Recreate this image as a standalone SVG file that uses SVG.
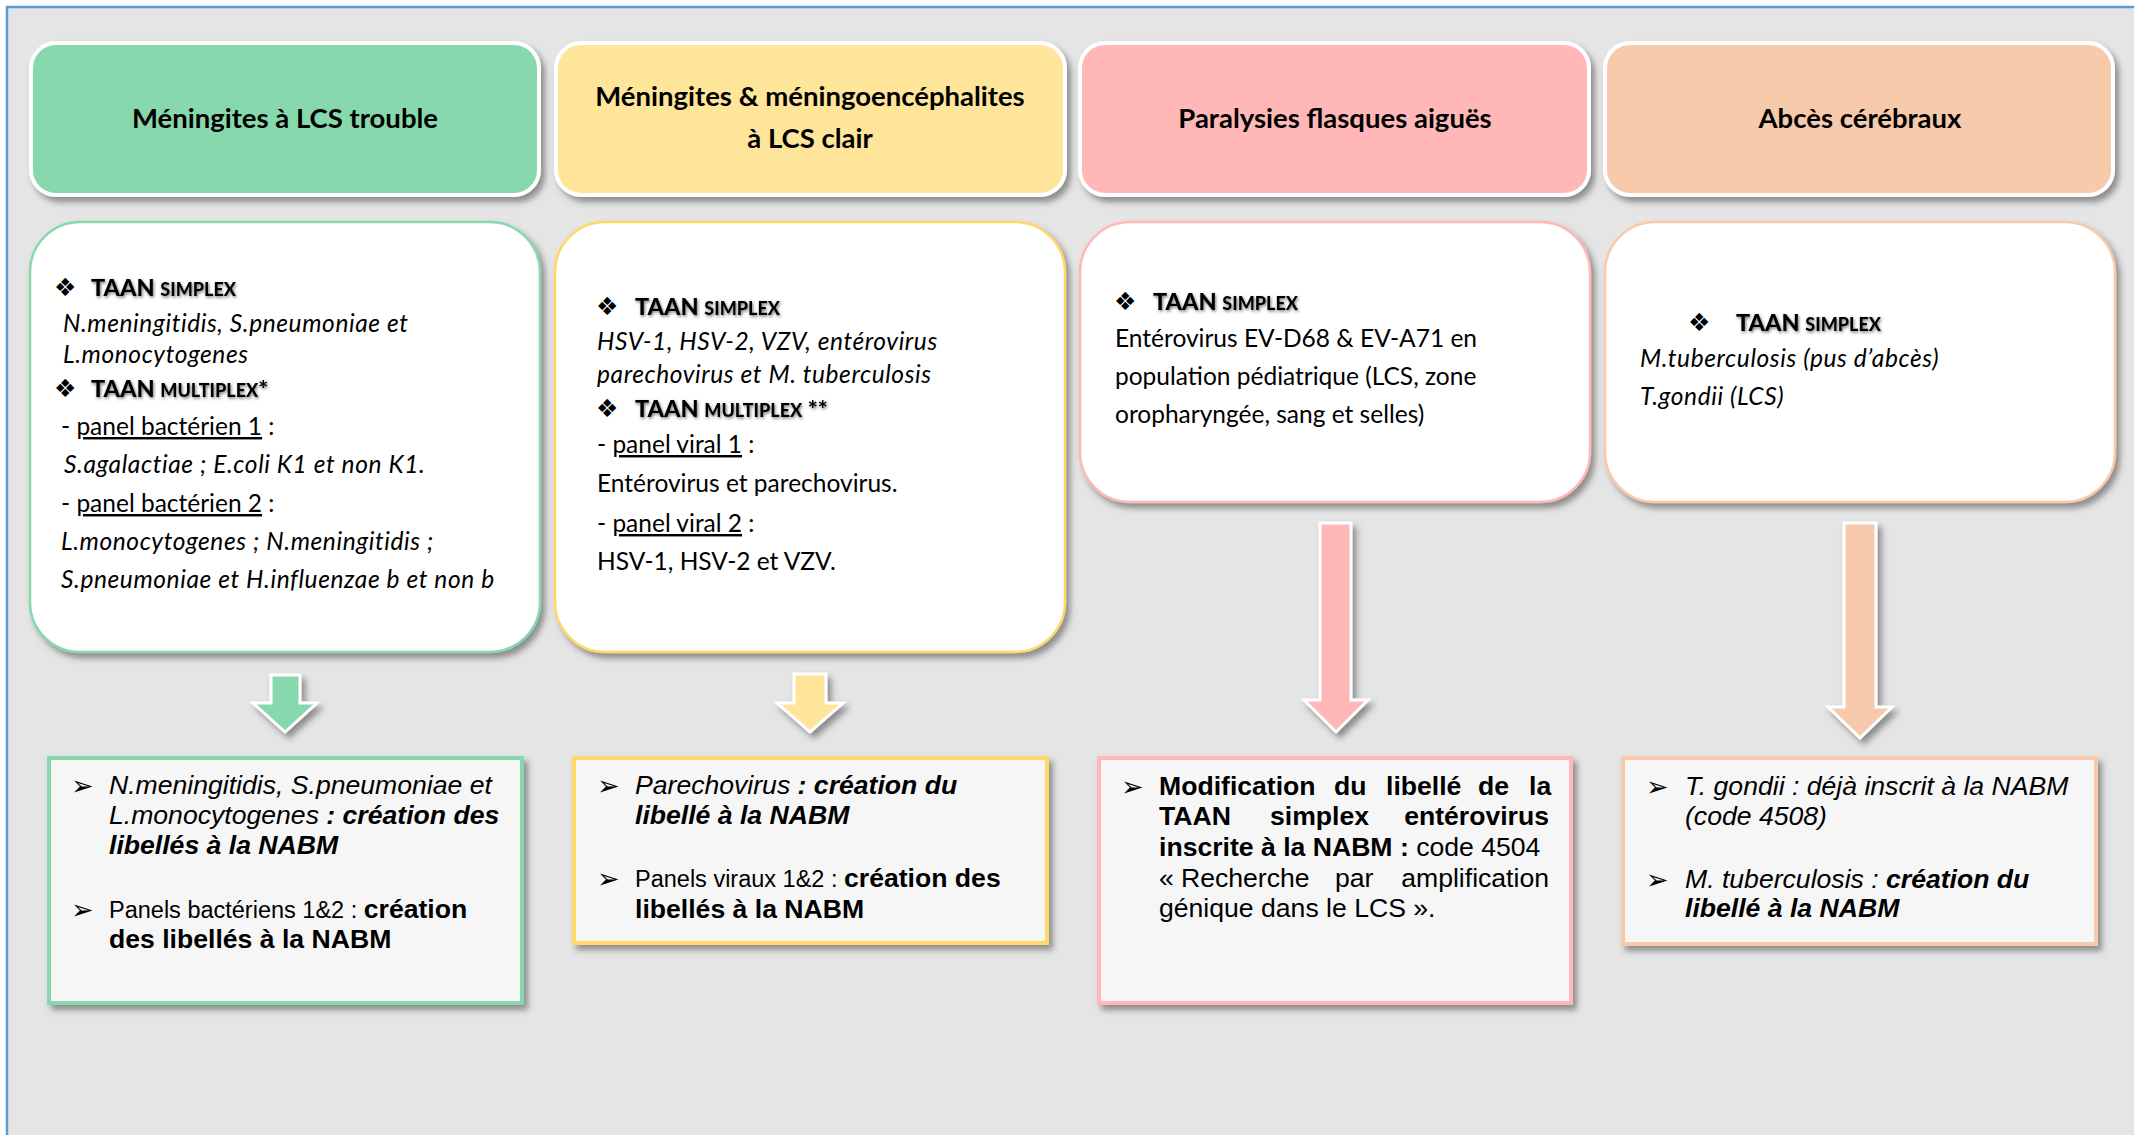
<svg xmlns="http://www.w3.org/2000/svg" width="2134" height="1135" viewBox="0 0 2134 1135">
<defs>
<filter id="sh" x="-10%" y="-10%" width="125%" height="130%">
<feDropShadow dx="4" dy="5" stdDeviation="3" flood-color="#444" flood-opacity="0.55"/>
</filter>
<filter id="ts" x="-5%" y="-30%" width="115%" height="170%">
<feDropShadow dx="1" dy="1.5" stdDeviation="1.6" flood-color="#555" flood-opacity="0.8"/>
</filter>
</defs>
<style>
.hdr{stroke:#fff;stroke-width:4}
.mid{fill:#fff;stroke-width:2.5}
.bot{fill:#F6F6F6;stroke-width:4}
.arr{stroke:#fff;stroke-width:3;stroke-linejoin:miter}
.ht{font-family:Lato,"Open Sans",sans-serif;font-weight:bold;font-size:27.5px;fill:#000;text-anchor:middle}
.c{font-family:Lato,"Open Sans",sans-serif;font-size:24.5px;fill:#000}
.i{font-style:italic}
.c.i{letter-spacing:0.6px}
.b{font-weight:bold}
.u{text-decoration:underline}
.taan{font-family:Lato,"Open Sans",sans-serif;font-weight:900;font-size:23.5px;fill:#000}
.sc{font-size:18px}
.bul{font-family:"DejaVu Sans",sans-serif;font-size:25px;fill:#000}
.a{font-family:"Liberation Sans",Arial,sans-serif;font-size:26.6px;fill:#000}
.sm{font-size:23.5px}
.ab{font-family:"DejaVu Sans",sans-serif;font-size:27px;fill:#000}
</style>
<rect x="0" y="0" width="2134" height="1135" fill="#fff"/>
<rect x="7" y="7" width="2140" height="1140" fill="#E5E5E5" stroke="#5B9BD5" stroke-width="2.5"/>

<g id="header1"><rect class="hdr" x="31" y="43" width="508" height="152" rx="25" fill="#88D8AE" filter="url(#sh)"/>
<text class="ht" x="285" y="128">Méningites à LCS trouble</text></g>
<g id="header2"><rect class="hdr" x="556" y="43" width="509" height="152" rx="25" fill="#FFE59A" filter="url(#sh)"/>
<text class="ht" x="810" y="106">Méningites &amp; méningoencéphalites</text>
<text class="ht" x="810" y="148">à LCS clair</text></g>
<g id="header3"><rect class="hdr" x="1080" y="43" width="509" height="152" rx="25" fill="#FFB7B7" filter="url(#sh)"/>
<text class="ht" x="1335" y="128">Paralysies flasques aiguës</text></g>
<g id="header4"><rect class="hdr" x="1605" y="43" width="508" height="152" rx="25" fill="#F7CAAC" filter="url(#sh)"/>
<text class="ht" x="1860" y="128">Abcès cérébraux</text></g>

<g id="tests1"><rect class="mid" x="30" y="222" width="510" height="430" rx="50" stroke="#88D8AE" filter="url(#sh)"/>
<text class="bul" x="54" y="296">❖</text>
<text class="taan" x="91" y="296" filter="url(#ts)">TAAN <tspan class="sc">SIMPLEX</tspan></text>
<text class="c i" x="63" y="332">N.meningitidis, S.pneumoniae et</text>
<text class="c i" x="63" y="363">L.monocytogenes</text>
<text class="bul" x="54" y="397">❖</text>
<text class="taan" x="91" y="397" filter="url(#ts)">TAAN <tspan class="sc">MULTIPLEX</tspan>*</text>
<text class="c" x="61" y="435">- <tspan class="u">panel bactérien 1</tspan> :</text>
<text class="c i" x="64" y="473">S.agalactiae ; E.coli K1 et non K1.</text>
<text class="c" x="61" y="512">- <tspan class="u">panel bactérien 2</tspan> :</text>
<text class="c i" x="61" y="550">L.monocytogenes ; N.meningitidis ;</text>
<text class="c i" x="61" y="588">S.pneumoniae et H.influenzae b et non b</text></g>

<g id="tests2"><rect class="mid" x="555" y="222" width="510" height="430" rx="50" stroke="#FFD966" filter="url(#sh)"/>
<text class="bul" x="596" y="315">❖</text>
<text class="taan" x="635" y="315" filter="url(#ts)">TAAN <tspan class="sc">SIMPLEX</tspan></text>
<text class="c i" x="597" y="350">HSV-1, HSV-2, VZV, entérovirus</text>
<text class="c i" x="597" y="383">parechovirus et M. tuberculosis</text>
<text class="bul" x="596" y="417">❖</text>
<text class="taan" x="635" y="417" filter="url(#ts)">TAAN <tspan class="sc">MULTIPLEX</tspan> **</text>
<text class="c" x="597" y="453">- <tspan class="u">panel viral 1</tspan> :</text>
<text class="c" x="597" y="492">Entérovirus et parechovirus.</text>
<text class="c" x="597" y="532">- <tspan class="u">panel viral 2</tspan> :</text>
<text class="c" x="597" y="570">HSV-1, HSV-2 et VZV.</text></g>

<g id="tests3"><rect class="mid" x="1080" y="222" width="510" height="280" rx="50" stroke="#FFB7B7" filter="url(#sh)"/>
<text class="bul" x="1114" y="310">❖</text>
<text class="taan" x="1153" y="310" filter="url(#ts)">TAAN <tspan class="sc">SIMPLEX</tspan></text>
<text class="c" x="1115" y="347">Entérovirus EV-D68 &amp; EV-A71 en</text>
<text class="c" x="1115" y="385">population pédiatrique (LCS, zone</text>
<text class="c" x="1115" y="423">oropharyngée, sang et selles)</text></g>

<g id="tests4"><rect class="mid" x="1605" y="222" width="510" height="280" rx="50" stroke="#F7CAAC" filter="url(#sh)"/>
<text class="bul" x="1688" y="331">❖</text>
<text class="taan" x="1736" y="331" filter="url(#ts)">TAAN <tspan class="sc">SIMPLEX</tspan></text>
<text class="c i" x="1640" y="367">M.tuberculosis (pus d’abcès)</text>
<text class="c i" x="1640" y="405">T.gondii (LCS)</text></g>

<g id="connectors">
<polygon class="arr" fill="#88D8AE" filter="url(#sh)" points="271,675 300,675 300,703 317,703 285,732 253,703 271,703"/>
<polygon class="arr" fill="#FFE59A" filter="url(#sh)" points="794,674 826,674 826,703 843,703 810,732 777,703 794,703"/>
<polygon class="arr" fill="#FFB7B7" filter="url(#sh)" points="1320,523 1351,523 1351,700 1368,700 1336,732 1304,700 1320,700"/>
<polygon class="arr" fill="#F7CAAC" filter="url(#sh)" points="1844,523 1876,523 1876,707 1892,707 1860,738 1828,707 1844,707"/>
</g>

<g id="result1"><rect class="bot" x="49" y="758" width="473" height="245" stroke="#88D8AE" filter="url(#sh)"/>
<text class="ab" x="71" y="795">➢</text>
<text class="a i" x="109" y="794">N.meningitidis, S.pneumoniae et</text>
<text class="a i" x="109" y="824">L.monocytogenes<tspan class="b"> : création des</tspan></text>
<text class="a i b" x="109" y="854">libellés à la NABM</text>
<text class="ab" x="71" y="919">➢</text>
<text class="a" x="109" y="918"><tspan class="sm">Panels bactériens 1&amp;2 : </tspan><tspan class="b">création</tspan></text>
<text class="a b" x="109" y="948">des libellés à la NABM</text></g>

<g id="result2"><rect class="bot" x="574" y="758" width="473" height="185" stroke="#FFD966" filter="url(#sh)"/>
<text class="ab" x="597" y="795">➢</text>
<text class="a i" x="635" y="794">Parechovirus<tspan class="b"> : création du</tspan></text>
<text class="a i b" x="635" y="824">libellé à la NABM</text>
<text class="ab" x="597" y="888">➢</text>
<text class="a" x="635" y="887"><tspan class="sm">Panels viraux 1&amp;2 : </tspan><tspan class="b">création des</tspan></text>
<text class="a b" x="635" y="918">libellés à la NABM</text></g>

<g id="result3"><rect class="bot" x="1099" y="758" width="472" height="245" stroke="#FFB7B7" filter="url(#sh)"/>
<text class="ab" x="1121" y="796">➢</text>
<text class="a b" y="795"><tspan x="1159">Modification</tspan><tspan x="1334">du</tspan><tspan x="1386">libellé</tspan><tspan x="1478">de</tspan><tspan x="1529">la</tspan></text>
<text class="a b" y="825"><tspan x="1159">TAAN</tspan><tspan x="1270">simplex</tspan></text>
<text class="a b" x="1549" y="825" text-anchor="end">entérovirus</text>
<text class="a" x="1159" y="856"><tspan class="b">inscrite à la NABM :</tspan> code 4504</text>
<text class="a" y="887"><tspan x="1159">«</tspan><tspan x="1181">Recherche</tspan><tspan x="1335">par</tspan></text>
<text class="a" x="1549" y="887" text-anchor="end">amplification</text>
<text class="a" x="1159" y="917">génique dans le LCS ».</text></g>

<g id="result4"><rect class="bot" x="1623" y="758" width="473" height="186" stroke="#F7CAAC" filter="url(#sh)"/>
<text class="ab" x="1646" y="796">➢</text>
<text class="a i" x="1685" y="795">T. gondii : déjà inscrit à la NABM</text>
<text class="a i" x="1685" y="825">(code 4508)</text>
<text class="ab" x="1646" y="889">➢</text>
<text class="a i" x="1685" y="888">M. tuberculosis : <tspan class="b">création du</tspan></text>
<text class="a i b" x="1685" y="917">libellé à la NABM</text></g>
</svg>
